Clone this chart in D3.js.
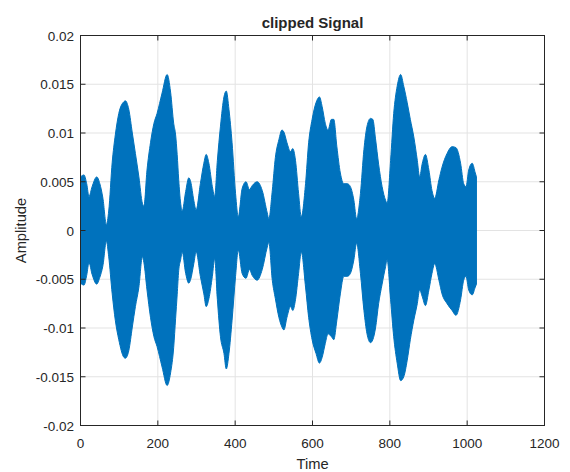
<!DOCTYPE html>
<html>
<head>
<meta charset="utf-8">
<script src="https://cdn.jsdelivr.net/npm/d3@7/dist/d3.min.js"></script>
<style>
  html, body { margin: 0; padding: 0; background: #fff; }
  svg { display: block; }
  text { font-family: "Liberation Sans", Arial, Helvetica, sans-serif; fill: #262626; }
</style>
</head>
<body>
<svg id="chart" width="570" height="472"></svg>
<script>
// ---- data (envelope of the dense oscillation) ----
const sampleX = [0, 9, 16, 22, 30, 42, 50, 58, 67, 73, 82, 90, 99, 112, 116, 125, 134, 142, 151, 160, 164, 172, 181, 190, 198, 211, 224, 233, 241, 246, 250, 254, 259, 263, 272, 280, 285, 293, 299, 310, 319, 325, 332, 341, 347, 354, 362, 371, 377, 384, 392, 401, 408, 418, 428, 437, 444, 457, 470, 483, 487, 496, 504, 513, 521, 526, 534, 543, 549, 556, 564, 571, 582, 590, 599, 609, 618, 625, 633, 640, 649, 655, 663, 672, 681, 690, 698, 707, 714, 724, 733, 741, 750, 756, 763, 771, 780, 789, 793, 802, 810, 819, 828, 836, 845, 853, 862, 871, 877, 884, 892, 901, 909, 916, 927, 935, 948, 961, 971, 983, 991, 997, 1004, 1013, 1021, 1024];
const upperPeaks = [0.0055, 0.0057, 0.0048, 0.0035, 0.0045, 0.0055, 0.0048, 0.0033, 0.0006, 0.0020, 0.0070, 0.0098, 0.0120, 0.0132, 0.0133, 0.0124, 0.0100, 0.0079, 0.0055, 0.0028, 0.0025, 0.0062, 0.0090, 0.0110, 0.0120, 0.0141, 0.0160, 0.0142, 0.0110, 0.0098, 0.0078, 0.0052, 0.0028, 0.0020, 0.0040, 0.0054, 0.0050, 0.0031, 0.0021, 0.0048, 0.0069, 0.0078, 0.0069, 0.0045, 0.0035, 0.0072, 0.0107, 0.0137, 0.0143, 0.0124, 0.0090, 0.0038, 0.0014, 0.0043, 0.0050, 0.0042, 0.0046, 0.0050, 0.0041, 0.0018, 0.0012, 0.0041, 0.0075, 0.0093, 0.0103, 0.0101, 0.0090, 0.0081, 0.0084, 0.0072, 0.0038, 0.0014, 0.0048, 0.0090, 0.0114, 0.0131, 0.0137, 0.0127, 0.0110, 0.0103, 0.0114, 0.0114, 0.0086, 0.0059, 0.0048, 0.0048, 0.0045, 0.0031, 0.0012, 0.0038, 0.0083, 0.0107, 0.0115, 0.0114, 0.0094, 0.0068, 0.0045, 0.0031, 0.0028, 0.0072, 0.0120, 0.0148, 0.0160, 0.0148, 0.0131, 0.0114, 0.0096, 0.0072, 0.0055, 0.0069, 0.0078, 0.0062, 0.0041, 0.0033, 0.0052, 0.0065, 0.0079, 0.0086, 0.0085, 0.0069, 0.0048, 0.0045, 0.0062, 0.0069, 0.0059, 0.0055];
const lowerPeaks = [-0.0054, -0.0056, -0.0046, -0.0033, -0.0045, -0.0055, -0.0048, -0.0036, -0.0011, -0.0027, -0.0065, -0.0092, -0.0112, -0.0130, -0.0131, -0.0123, -0.0099, -0.0078, -0.0058, -0.0027, -0.0033, -0.0061, -0.0089, -0.0109, -0.0119, -0.0140, -0.0159, -0.0146, -0.0120, -0.0090, -0.0066, -0.0041, -0.0030, -0.0022, -0.0044, -0.0054, -0.0050, -0.0034, -0.0022, -0.0047, -0.0065, -0.0078, -0.0070, -0.0047, -0.0029, -0.0071, -0.0109, -0.0126, -0.0142, -0.0126, -0.0092, -0.0047, -0.0020, -0.0044, -0.0049, -0.0040, -0.0046, -0.0051, -0.0040, -0.0017, -0.0012, -0.0051, -0.0070, -0.0089, -0.0099, -0.0102, -0.0089, -0.0078, -0.0082, -0.0071, -0.0044, -0.0022, -0.0058, -0.0089, -0.0112, -0.0126, -0.0136, -0.0130, -0.0116, -0.0106, -0.0109, -0.0112, -0.0092, -0.0065, -0.0047, -0.0047, -0.0044, -0.0030, -0.0013, -0.0044, -0.0082, -0.0106, -0.0115, -0.0112, -0.0100, -0.0075, -0.0055, -0.0037, -0.0030, -0.0071, -0.0109, -0.0136, -0.0154, -0.0150, -0.0133, -0.0112, -0.0092, -0.0075, -0.0061, -0.0068, -0.0077, -0.0061, -0.0044, -0.0034, -0.0051, -0.0065, -0.0075, -0.0082, -0.0087, -0.0071, -0.0051, -0.0047, -0.0061, -0.0066, -0.0058, -0.0055];

const xTicks = [0, 200, 400, 600, 800, 1000, 1200];
const xTickLabels = ["0", "200", "400", "600", "800", "1000", "1200"];
const yTicks = [-0.02, -0.015, -0.01, -0.005, 0, 0.005, 0.01, 0.015, 0.02];
const yTickLabels = ["-0.02", "-0.015", "-0.01", "-0.005", "0", "0.005", "0.01", "0.015", "0.02"];

const titleText = "clipped Signal";
const xLabelText = "Time";
const yLabelText = "Amplitude";

// ---- layout ----
const L = 80.5, R = 544.5, T = 35.5, B = 425.5;
const svg = d3.select("#chart");
svg.append("rect").attr("width", 570).attr("height", 472).attr("fill", "#fff");

const x = d3.scaleLinear().domain([0, 1200]).range([L, R]);
const y = d3.scaleLinear().domain([-0.02, 0.02]).range([B, T]);

// grid
const grid = svg.append("g");
grid.selectAll("line.gx").data(xTicks.slice(1, -1)).join("line")
  .attr("x1", d => x(d)).attr("x2", d => x(d)).attr("y1", T).attr("y2", B)
  .attr("stroke", "#e3e3e3").attr("stroke-width", 1);
grid.selectAll("line.gy").data(yTicks.slice(1, -1)).join("line")
  .attr("y1", d => y(d)).attr("y2", d => y(d)).attr("x1", L).attr("x2", R)
  .attr("stroke", "#e3e3e3").attr("stroke-width", 1);

// signal envelope
const pts = sampleX.map((v, i) => ({ t: v, hi: upperPeaks[i], lo: lowerPeaks[i] }));
const area = d3.area().x(d => x(d.t)).y0(d => y(d.lo)).y1(d => y(d.hi)).curve(d3.curveMonotoneX);
svg.append("path").datum(pts).attr("d", area)
  .attr("fill", "#0072BD").attr("stroke", "#0072BD").attr("stroke-width", 1).attr("stroke-linejoin", "round");

// axes (MATLAB-like: ticks inside, box)
const tickLen = 5;
const axisColor = "#262626";
const axG = svg.append("g");
axG.append("rect").attr("x", L).attr("y", T).attr("width", R - L).attr("height", B - T)
  .attr("fill", "none").attr("stroke", axisColor).attr("stroke-width", 1);

axG.selectAll("line.xtb").data(xTicks).join("line")
  .attr("x1", d => x(d)).attr("x2", d => x(d)).attr("y1", B).attr("y2", B - tickLen)
  .attr("stroke", axisColor);
axG.selectAll("line.xtt").data(xTicks).join("line").attr("class", "xtt")
  .attr("x1", d => x(d)).attr("x2", d => x(d)).attr("y1", T).attr("y2", T + tickLen)
  .attr("stroke", axisColor);
axG.selectAll("line.ytl").data(yTicks).join("line").attr("class", "ytl")
  .attr("y1", d => y(d)).attr("y2", d => y(d)).attr("x1", L).attr("x2", L + tickLen)
  .attr("stroke", axisColor);
axG.selectAll("line.ytr").data(yTicks).join("line").attr("class", "ytr")
  .attr("y1", d => y(d)).attr("y2", d => y(d)).attr("x1", R).attr("x2", R - tickLen)
  .attr("stroke", axisColor);

// tick labels
svg.append("g").selectAll("text").data(xTicks).join("text")
  .attr("x", d => x(d)).attr("y", 447.5)
  .attr("text-anchor", "middle").attr("font-size", "13.5px")
  .text((d, i) => xTickLabels[i]);
svg.append("g").selectAll("text").data(yTicks).join("text")
  .attr("x", 74).attr("y", d => y(d) + 5)
  .attr("text-anchor", "end").attr("font-size", "13.5px")
  .text((d, i) => yTickLabels[i]);

// labels
svg.append("text").attr("x", (L + R) / 2).attr("y", 27.5)
  .attr("text-anchor", "middle").attr("font-size", "15px").attr("font-weight", "bold")
  .text(titleText);
svg.append("text").attr("x", (L + R) / 2).attr("y", 469)
  .attr("text-anchor", "middle").attr("font-size", "14.7px")
  .text(xLabelText);
svg.append("text").attr("transform", `translate(25.5,${(T + B) / 2}) rotate(-90)`)
  .attr("text-anchor", "middle").attr("font-size", "14.7px")
  .text(yLabelText);
</script>
</body>
</html>
